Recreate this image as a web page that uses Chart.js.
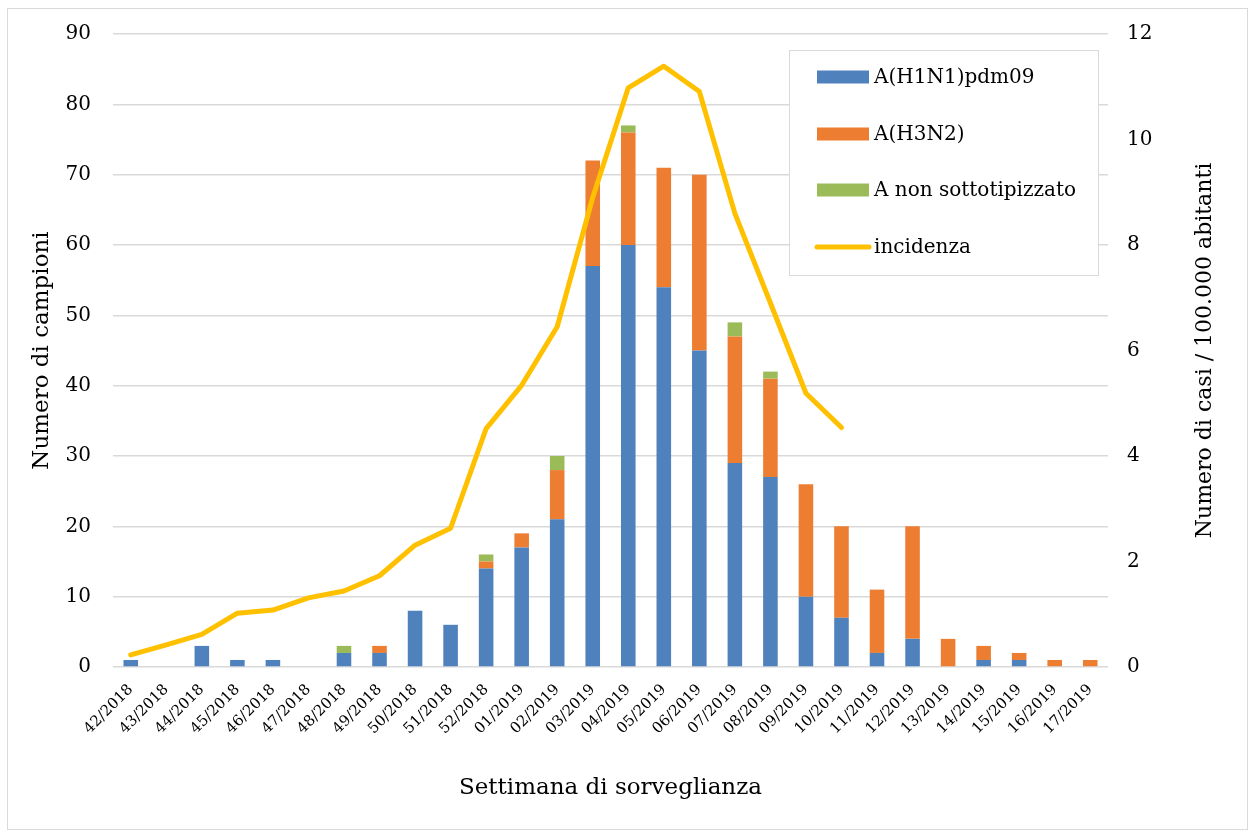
<!DOCTYPE html>
<html>
<head>
<meta charset="utf-8">
<script src="https://cdn.jsdelivr.net/npm/chart.js@4.4.1/dist/chart.umd.min.js"></script>
<style>
html,body{margin:0;padding:0;background:#fff;}
#wrap{width:1255px;height:838px;position:relative;}
</style>
</head>
<body>
<div id="wrap"><canvas id="c" width="1255" height="838"></canvas></div>
<script>
const weeks = ["42/2018","43/2018","44/2018","45/2018","46/2018","47/2018","48/2018","49/2018","50/2018","51/2018","52/2018",
  "01/2019","02/2019","03/2019","04/2019","05/2019","06/2019","07/2019","08/2019","09/2019","10/2019","11/2019","12/2019",
  "13/2019","14/2019","15/2019","16/2019","17/2019"];
const h1n1 = [1,0,3,1,1,0,2,2,8,6,14,17,21,57,60,54,45,29,27,10,7,2,4,0,1,1,0,0];
const h3n2 = [0,0,0,0,0,0,0,1,0,0,1,2,7,15,16,17,25,18,14,16,13,9,16,4,2,1,1,1];
const nonSub = [0,0,0,0,0,0,1,0,0,0,1,0,2,0,1,0,0,2,1,0,0,0,0,0,0,0,0,0];
const incidenza = [0.23,0.42,0.62,1.02,1.08,1.31,1.44,1.73,2.31,2.63,4.52,5.34,6.45,8.9,10.98,11.39,10.91,8.6,6.9,5.19,4.54,
  null,null,null,null,null,null,null];
const leftTicks = [0,10,20,30,40,50,60,70,80,90];
const rightTicks = [0,2,4,6,8,10,12];
const rightTitle = 'Numero di casi / 100.000 abitanti';

const FONT = "'DejaVu Serif', serif";
const TXT = '#000000';

const frame = {
  id:'frame',
  beforeDraw(chart){
    const ctx = chart.ctx;
    ctx.save();
    ctx.fillStyle='#fff';
    ctx.fillRect(0,0,chart.width,chart.height);
    ctx.strokeStyle='#d9d9d9';
    ctx.lineWidth=1;
    ctx.strokeRect(7.5,8.5,1240,821);
    ctx.restore();
  }
};

const rightTitlePlugin = {
  id:'rightTitle',
  afterDraw(chart){
    const ctx = chart.ctx;
    const a = chart.chartArea;
    ctx.save();
    ctx.translate(1205,(a.top+a.bottom)/2);
    ctx.rotate(-Math.PI/2);
    ctx.font = "22px " + FONT;
    ctx.fillStyle = TXT;
    ctx.textAlign='center';
    ctx.textBaseline='middle';
    ctx.fillText(rightTitle,0,0);
    ctx.restore();
  }
};

const boxLegend = {
  id:'boxLegend',
  afterDraw(chart){
    const ctx = chart.ctx;
    ctx.save();
    ctx.fillStyle='#fff';
    ctx.fillRect(789,50,309,225);
    ctx.strokeStyle='#d9d9d9';
    ctx.lineWidth=1;
    ctx.strokeRect(789.5,50.5,309,225);
    const ys=[77,134,190,247];
    const order=[1,2,3,0];
    ctx.font = "20px " + FONT;
    ctx.textBaseline='middle';
    ctx.textAlign='left';
    order.forEach((di,i)=>{
      const ds = chart.data.datasets[di];
      const y = ys[i];
      if(ds.type==='line'){
        ctx.strokeStyle=ds.borderColor;
        ctx.lineWidth=5;
        ctx.lineCap='round';
        ctx.beginPath();ctx.moveTo(817,y);ctx.lineTo(869,y);ctx.stroke();
      } else {
        ctx.fillStyle=ds.backgroundColor;
        ctx.fillRect(817,y-6.5,52,13);
      }
      ctx.fillStyle=TXT;
      ctx.fillText(ds.label,874,y+1);
    });
    ctx.restore();
  }
};

new Chart(document.getElementById('c'),{
  data:{
    labels:weeks,
    datasets:[
      {type:'line',label:'incidenza',data:incidenza,yAxisID:'y1',borderColor:'#FFC000',backgroundColor:'#FFC000',
        borderWidth:5,pointRadius:0,tension:0,borderCapStyle:'round',borderJoinStyle:'round',order:0,spanGaps:false},
      {type:'bar',label:'A(H1N1)pdm09',data:h1n1,yAxisID:'y',backgroundColor:'#4F81BD',stack:'s',order:1,
        categoryPercentage:1,barPercentage:0.41},
      {type:'bar',label:'A(H3N2)',data:h3n2,yAxisID:'y',backgroundColor:'#ED7D31',stack:'s',order:2,
        categoryPercentage:1,barPercentage:0.41},
      {type:'bar',label:'A non sottotipizzato',data:nonSub,yAxisID:'y',backgroundColor:'#9BBB59',stack:'s',order:3,
        categoryPercentage:1,barPercentage:0.41}
    ]
  },
  options:{
    responsive:false,
    animation:false,
    devicePixelRatio:1,
    layout:{padding:{top:33,left:0,right:0,bottom:0}},
    plugins:{legend:{display:false},tooltip:{enabled:false}},
    scales:{
      x:{
        stacked:true,
        grid:{display:false},
        border:{display:false},
        ticks:{autoSkip:false,minRotation:45,maxRotation:45,color:TXT,font:{family:FONT,size:15},padding:6},
        title:{display:true,text:'Settimana di sorveglianza',color:TXT,font:{family:FONT,size:23},padding:{top:0,bottom:36}},
        afterFit(s){s.height=171;}
      },
      y:{
        position:'left',
        stacked:true,
        min:0,max:90,
        afterBuildTicks(s){s.ticks=leftTicks.map(v=>({value:v}));},
        grid:{color:'#d9d9d9',lineWidth:1.5,drawTicks:false},
        border:{display:false},
        ticks:{color:TXT,font:{family:FONT,size:20},padding:22},
        title:{display:true,text:'Numero di campioni',color:TXT,font:{family:FONT,size:23},padding:{top:28,bottom:0}},
        afterFit(s){s.width=113;}
      },
      y1:{
        position:'right',
        min:0,max:12,
        afterBuildTicks(s){s.ticks=rightTicks.map(v=>({value:v}));},
        grid:{display:false,drawTicks:false},
        border:{display:false},
        ticks:{color:TXT,font:{family:FONT,size:20},padding:19},
        title:{display:false},
        afterFit(s){s.width=147;}
      }
    }
  },
  plugins:[frame,boxLegend,rightTitlePlugin]
});
</script>
</body>
</html>
